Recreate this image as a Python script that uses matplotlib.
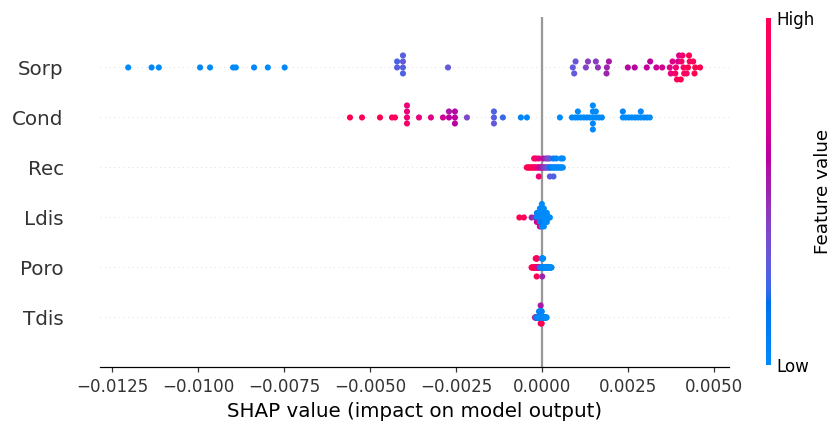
import numpy as np
import matplotlib
matplotlib.use("Agg")
import matplotlib.pyplot as plt
import matplotlib.cm as cm
from matplotlib.colors import LinearSegmentedColormap

# ---------------- data (bottom row first) ----------------
feature_names = ["Tdis", "Poro", "Ldis", "Rec", "Cond", "Sorp"]

sorp_shap = [-0.01203, -0.01135, -0.01114, -0.00994, -0.00965, -0.00898, -0.00890, -0.00837, -0.00797, -0.00748,
             -0.00421, -0.00421,
             -0.00404, -0.00404, -0.00404, -0.00404,
             -0.00273,
             0.00090, 0.00098, 0.00094,
             0.00128, 0.00134,
             0.00163, 0.00157,
             0.00189, 0.00195, 0.00188,
             0.00250, 0.00270,
             0.00305, 0.00315,
             0.00333, 0.00350,
             0.00372, 0.00380, 0.00375,
             0.00390, 0.00396, 0.00388, 0.00399, 0.00393,
             0.00412, 0.00406, 0.00414, 0.00409, 0.00404,
             0.00425, 0.00430, 0.00421, 0.00428,
             0.00446, 0.00440, 0.00444,
             0.00460]
sorp_value = [0.0, 0.02, 0.0, 0.03, 0.0, 0.02, 0.0, 0.03, 0.0, 0.02,
              0.28, 0.25,
              0.27, 0.30, 0.25, 0.28,
              0.30,
              0.30, 0.33, 0.30,
              0.40, 0.42,
              0.45, 0.42,
              0.50, 0.55, 0.50,
              0.58, 0.60,
              0.62, 0.60,
              0.65, 0.70,
              0.75, 0.72, 0.80,
              0.85, 0.70, 0.90, 0.75, 0.95,
              0.95, 0.90, 1.0, 0.85, 1.0,
              1.0, 0.95, 0.90, 1.0,
              1.0, 0.95, 1.0,
              1.0]

cond_shap = [-0.005580, -0.005231, -0.004708, -0.004359, -0.004272,
             -0.003923, -0.003923, -0.003923, -0.003923,
             -0.003574, -0.003226, -0.002877,
             -0.002702, -0.002702,
             -0.002528, -0.002528, -0.002528,
             -0.002179,
             -0.001394, -0.001394, -0.001394,
             -0.001133,
             -0.000610, -0.000435,
             0.000524,
             0.000873, 0.000960, 0.001047, 0.001047, 0.001134, 0.001222,
             0.001309, 0.001396,
             0.001483, 0.001483, 0.001483, 0.001483, 0.001483,
             0.001570, 0.001570,
             0.001658,
             0.001745,
             0.002355, 0.002355,
             0.002442,
             0.002530, 0.002617, 0.002704, 0.002791,
             0.002878, 0.002878,
             0.002966, 0.003053, 0.003140]
cond_value = [1.0, 0.95, 1.0, 0.92, 0.95,
              0.85, 0.80, 0.88, 0.82,
              0.80, 0.75, 0.68,
              0.60, 0.55,
              0.62, 0.58, 0.60,
              0.38,
              0.28, 0.25, 0.30,
              0.22,
              0.05, 0.02,
              0.0,
              0.02, 0.0, 0.03, 0.0, 0.02, 0.0,
              0.03, 0.0,
              0.0, 0.02, 0.05, 0.0, 0.03,
              0.0, 0.02,
              0.0,
              0.03,
              0.0, 0.05,
              0.02,
              0.0, 0.03, 0.0, 0.02,
              0.0, 0.03,
              0.0, 0.02, 0.0]

rec_shap = [-0.000440, -0.000412, -0.000385, -0.000360, -0.000331, -0.000305, -0.000278, -0.000250,
            -0.000224, -0.000224,
            -0.000197,
            -0.000170, -0.000170,
            -0.000143, -0.000116,
            -0.000090, -0.000090, -0.000090,
            -0.000062, -0.000036, -0.000009, 0.000018,
            0.000045, 0.000045,
            0.000071, 0.000098,
            0.000125, 0.000125,
            0.000152,
            0.000178, 0.000178,
            0.000205,
            0.000232, 0.000232, 0.000232,
            0.000258, 0.000285, 0.000312,
            0.000338, 0.000338, 0.000338,
            0.000365, 0.000392,
            0.000418, 0.000418,
            0.000445, 0.000472, 0.000498, 0.000525,
            0.000552, 0.000552,
            0.000580,
            0.000610, 0.000610]
rec_value = [1.0, 1.0, 1.0, 0.95, 1.0, 1.0, 0.95, 1.0,
             1.0, 0.95,
             0.9,
             0.95, 0.9,
             0.85, 0.8,
             0.75, 0.8, 0.85,
             0.7, 0.6, 0.55, 0.5,
             0.5, 0.55,
             0.45, 0.4,
             0.42, 0.45,
             0.35,
             0.3, 0.35,
             0.25,
             0.2, 0.3, 0.3,
             0.15, 0.1, 0.05,
             0.05, 0.1, 0.25,
             0.0, 0.02,
             0.0, 0.05,
             0.0, 0.03, 0.0, 0.0,
             0.02, 0.0,
             0.0,
             0.0, 0.0]

ldis_shap = [-0.000654, -0.000523, -0.000299, -0.000203,
             -0.000145, -0.000145, -0.000145,
             -0.000120, -0.000120,
             -0.000102, -0.000102, -0.000102,
             -0.000080, -0.000080,
             -0.000058, -0.000058, -0.000058, -0.000058, -0.000058,
             -0.000030, -0.000030, -0.000030,
             -0.000012, -0.000012,
             0.0, 0.0, 0.0, 0.0, 0.0, 0.0,
             0.000015, 0.000015, 0.000015,
             0.000035, 0.000035,
             0.000058, 0.000058, 0.000058, 0.000058, 0.000058,
             0.000080, 0.000080,
             0.000102, 0.000102, 0.000102,
             0.000125, 0.000125,
             0.000145, 0.000145, 0.000145,
             0.000170, 0.000189, 0.000210, 0.000233]
ldis_value = [1.0, 0.95, 0.5, 0.45,
              0.1, 0.0, 0.6,
              0.0, 0.05,
              0.0, 0.1, 0.8,
              0.05, 0.0,
              0.0, 0.0, 0.1, 0.0, 0.7,
              0.0, 0.05, 0.0,
              0.0, 0.0,
              0.4, 0.0, 0.05, 0.0, 0.0, 0.0,
              0.0, 0.0, 0.1,
              0.0, 0.02,
              0.0, 0.0, 0.05, 0.0, 0.0,
              0.0, 0.0,
              0.0, 0.0, 0.0,
              0.0, 0.05,
              0.0, 0.0, 0.0,
              0.0, 0.0, 0.0, 0.0]

poro_shap = [-0.000300, -0.000287, -0.000273, -0.000260, -0.000246, -0.000233, -0.000219, -0.000206, -0.000192,
             -0.000179, -0.000179,
             -0.000165, -0.000165,
             -0.000152, -0.000152, -0.000152,
             -0.000138, -0.000138,
             -0.000125, -0.000111, -0.000098, -0.000084, -0.000071, -0.000057, -0.000044, -0.000030, -0.000017,
             -0.000003, -0.000003,
             0.000010, 0.000010, 0.000010,
             0.000024, 0.000024,
             0.000037, 0.000037,
             0.000051, 0.000064, 0.000078, 0.000091, 0.000105, 0.000118, 0.000132, 0.000145, 0.000159,
             0.000172, 0.000186, 0.000199, 0.000213, 0.000226, 0.000240, 0.000253, 0.000267, 0.000280]
poro_value = [1.0, 1.0, 1.0, 0.95, 1.0, 1.0, 0.95, 1.0, 1.0,
              1.0, 0.95,
              0.95, 1.0,
              1.0, 0.9, 1.0,
              0.9, 0.95,
              0.85, 0.8, 0.7, 0.6, 0.5, 0.4, 0.3, 0.2, 0.1,
              0.05, 0.0,
              0.0, 0.02, 0.5,
              0.0, 0.05,
              0.02, 0.0,
              0.0, 0.03, 0.0, 0.0, 0.05, 0.0, 0.0, 0.02, 0.0,
              0.0, 0.0, 0.03, 0.0, 0.0, 0.02, 0.0, 0.0, 0.0]

tdis_shap = [-0.000200, -0.000192, -0.000184, -0.000177, -0.000169, -0.000161, -0.000153, -0.000145, -0.000138, -0.000130,
             -0.000122, -0.000114, -0.000106, -0.000099, -0.000091,
             -0.000083, -0.000083,
             -0.000075, -0.000067,
             -0.000060, -0.000060,
             -0.000052,
             -0.000044, -0.000044,
             -0.000036, -0.000036, -0.000036, -0.000036,
             -0.000028,
             -0.000021, -0.000021,
             -0.000013, -0.000013,
             -0.000005, -0.000005, -0.000005,
             0.000003, 0.000011, 0.000018, 0.000026, 0.000034, 0.000042, 0.000050, 0.000057, 0.000065,
             0.000073, 0.000081, 0.000089, 0.000096, 0.000104, 0.000112, 0.000120, 0.000128, 0.000137]
tdis_value = [1.0, 0.9, 0.0, 0.8, 0.0, 0.05, 0.0, 0.6, 0.0, 0.0,
              0.05, 0.0, 0.0, 0.1, 0.0,
              0.0, 0.05,
              0.0, 0.0,
              0.02, 0.0,
              0.0,
              0.0, 0.1,
              0.0, 0.05, 0.9, 0.55,
              0.0,
              0.05, 0.0,
              0.0, 0.0,
              0.0, 0.05, 1.0,
              0.0, 0.1, 0.0, 0.0, 0.05, 0.0, 0.0, 0.0, 0.1,
              0.0, 0.0, 0.0, 0.05, 0.0, 0.0, 0.0, 0.0, 0.0]

rows = [(tdis_shap, tdis_value), (poro_shap, poro_value), (ldis_shap, ldis_value),
        (rec_shap, rec_value), (cond_shap, cond_value), (sorp_shap, sorp_value)]


# ---------------- SHAP red-blue colormap (LCH interpolation) ----------------
def lch2rgb(l, c, h):
    a = c * np.cos(h)
    b = c * np.sin(h)
    fy = (l + 16.0) / 116.0
    fx = fy + a / 500.0
    fz = fy - b / 200.0
    f = np.array([fx, fy, fz])
    f = np.where(f > 0.2068966, f ** 3, (f - 16.0 / 116.0) / 7.787)
    xyz = f * np.array([0.95047, 1.0, 1.08883])
    xyz_from_rgb = np.array([[0.412453, 0.357580, 0.180423],
                             [0.212671, 0.715160, 0.072169],
                             [0.019334, 0.119193, 0.950227]])
    rgb = np.linalg.inv(xyz_from_rgb) @ xyz
    rgb = np.where(rgb > 0.0031308, 1.055 * np.power(np.clip(rgb, 1e-12, None), 1 / 2.4) - 0.055, 12.92 * rgb)
    return np.clip(rgb, 0, 1)


blue_lch = [54., 70., 4.6588]
l_mid = 40.
red_lch = [54., 90., 0.35470565 + 2 * np.pi]
nsteps = 100
l_vals = list(np.linspace(blue_lch[0], l_mid, nsteps // 2)) + list(np.linspace(l_mid, red_lch[0], nsteps // 2))
c_vals = np.linspace(blue_lch[1], red_lch[1], nsteps)
h_vals = np.linspace(blue_lch[2], red_lch[2], nsteps)
cols = [lch2rgb(l, c, h) for l, c, h in zip(l_vals, c_vals, h_vals)]
red_blue = LinearSegmentedColormap.from_list("red_blue", cols)


# ---------------- beeswarm layout (SHAP algorithm) ----------------
def swarm_offsets(shaps, nbins=100, row_height=0.4):
    shaps = np.asarray(shaps, dtype=float)
    quant = np.round(nbins * (shaps - shaps.min()) / (shaps.max() - shaps.min()))
    order = np.argsort(quant, kind="stable")
    ys = np.zeros(len(shaps))
    layer, last_bin = 0, -1
    for ind in order:
        if quant[ind] != last_bin:
            layer = 0
        ys[ind] = np.ceil(layer / 2) * ((layer % 2) * 2 - 1)
        layer += 1
        last_bin = quant[ind]
    ys *= 0.9 * (row_height / np.max(ys + 1))
    return ys


# ---------------- figure ----------------
DPI = 110
fig = plt.figure(figsize=(833 / DPI, 421 / DPI), dpi=DPI)
ax = fig.add_axes([0.1196, 0.1271, 0.7551, 0.8314])
axis_color = "#333333"

ax.axvline(x=0, color="#999999", zorder=-1)
for pos, (shaps, vals) in enumerate(rows):
    ax.axhline(y=pos, color="#cccccc", lw=0.5, dashes=(1, 5), zorder=-1)
    ys = swarm_offsets(shaps)
    ax.scatter(shaps, pos + ys, c=vals, cmap=red_blue, vmin=0, vmax=1,
               s=16, alpha=1, linewidth=0, zorder=3)

ax.xaxis.set_ticks_position("bottom")
ax.yaxis.set_ticks_position("none")
for sp in ["right", "top", "left"]:
    ax.spines[sp].set_visible(False)
ax.tick_params(color=axis_color, labelcolor=axis_color)
ax.set_yticks(range(len(feature_names)))
ax.set_yticklabels(feature_names, fontsize=13)
ax.tick_params("y", length=20, width=0.5, which="major")
ax.tick_params("x", labelsize=11)
ax.set_ylim(-1, len(feature_names))
ax.set_xlabel("SHAP value (impact on model output)", fontsize=13)

cax = fig.add_axes([0.9196, 0.1330, 0.0056, 0.8242])
m = cm.ScalarMappable(cmap=red_blue)
m.set_array([0, 1])
cb = fig.colorbar(m, cax=cax, ticks=[0, 1])
cb.set_ticklabels(["Low", "High"])
cb.set_label("Feature value", size=12, labelpad=0)
cb.ax.tick_params(labelsize=11, length=0)
cb.outline.set_visible(False)

fig.savefig("out.png", dpi=DPI)
